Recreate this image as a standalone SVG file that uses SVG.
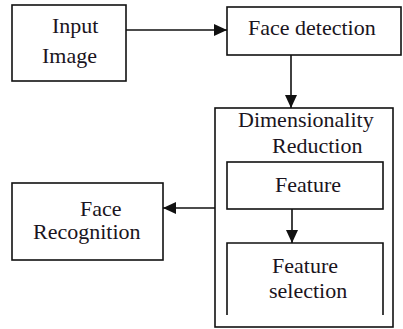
<svg xmlns="http://www.w3.org/2000/svg" width="403" height="329" viewBox="0 0 403 329">
  <style>
    .box { fill: #fff; stroke: #111; stroke-width: 1.6; }
    .edge { fill: none; stroke: #111; stroke-width: 1.6; }
  </style>
  <defs>
    <marker id="arrow" markerUnits="userSpaceOnUse" markerWidth="14" markerHeight="12" refX="13" refY="6" orient="auto">
      <path d="M0,0 L13,6 L0,12 Z" fill="#111"/>
    </marker>
  </defs>
  <rect width="403" height="329" fill="#fff"/>

  <g font-family="'Liberation Serif', 'DejaVu Serif', serif" font-size="22" fill="#1a1420">
    <g id="input-image">
      <rect class="box" x="12" y="5" width="114" height="76"/>
      <text x="52" y="33">Input</text>
      <text x="42" y="63">Image</text>
    </g>

    <g id="face-detection">
      <rect class="box" x="227" y="7" width="174" height="48"/>
      <text x="248" y="35">Face detection</text>
    </g>

    <g id="dimensionality-reduction">
      <rect class="box" x="215" y="108" width="178" height="219"/>
      <text x="238" y="127">Dimensionality</text>
      <text x="272" y="153">Reduction</text>
    </g>

    <g id="feature">
      <rect class="box" x="227" y="162" width="156" height="47"/>
      <text x="275" y="192">Feature</text>
    </g>

    <g id="feature-selection">
      <path class="edge" d="M227,315 V243 H383 V315"/>
      <text x="272" y="273">Feature</text>
      <text x="269" y="298">selection</text>
    </g>

    <g id="face-recognition">
      <rect class="box" x="12" y="183" width="151" height="77"/>
      <text x="80" y="216">Face</text>
      <text x="33" y="239">Recognition</text>
    </g>
  </g>

  <g id="connectors">
    <line class="edge" x1="126" y1="30" x2="227" y2="30" marker-end="url(#arrow)"/>
    <line class="edge" x1="291" y1="55" x2="291" y2="108" marker-end="url(#arrow)"/>
    <line class="edge" x1="292" y1="209" x2="292" y2="243" marker-end="url(#arrow)"/>
    <line class="edge" x1="215" y1="208" x2="163" y2="208" marker-end="url(#arrow)"/>
  </g>
</svg>
